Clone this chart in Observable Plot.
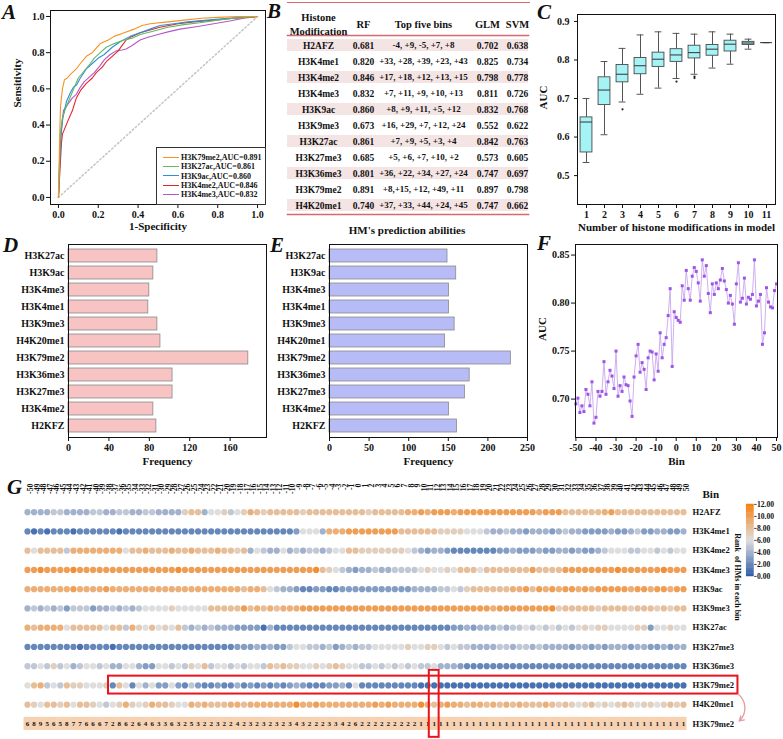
<!DOCTYPE html>
<html><head><meta charset="utf-8">
<script src="https://cdn.jsdelivr.net/npm/d3@7"></script>
<script src="https://cdn.jsdelivr.net/npm/@observablehq/plot@0.6"></script>
<style>
body{margin:0;background:#fff;}
#wrap{position:relative;width:783px;height:739px;overflow:hidden;font-family:"Liberation Serif","Times New Roman",serif;font-weight:bold;color:#111;background:#fff;}
.panel{position:absolute;}
.panel svg{overflow:visible;background:transparent;}
.lbl{position:absolute;font-style:italic;font-weight:bold;font-size:21px;line-height:1.1;}
</style></head><body><div id="wrap"></div>
<script>
// ---------------- DATA ----------------
// A: ROC curves [1-specificity, sensitivity]
const rocH3K79me2 = [[0,0],[0.003,0.15],[0.006,0.33],[0.01,0.5],[0.015,0.55],[0.02,0.6],[0.03,0.65],[0.045,0.66],[0.06,0.68],[0.09,0.71],[0.11,0.74],[0.14,0.78],[0.17,0.8],[0.21,0.85],[0.25,0.87],[0.28,0.89],[0.33,0.91],[0.38,0.93],[0.42,0.95],[0.46,0.96],[0.55,0.97],[0.63,0.98],[0.72,0.99],[0.8,0.995],[0.9,1],[1,1]];
const rocH3K27ac = [[0,0],[0.005,0.2],[0.01,0.36],[0.02,0.44],[0.035,0.49],[0.05,0.53],[0.065,0.57],[0.08,0.61],[0.1,0.66],[0.13,0.7],[0.16,0.74],[0.18,0.77],[0.21,0.8],[0.24,0.83],[0.28,0.85],[0.33,0.87],[0.37,0.88],[0.41,0.9],[0.48,0.92],[0.55,0.94],[0.63,0.955],[0.71,0.965],[0.8,0.98],[0.88,0.99],[1,1]];
const rocH3K9ac = [[0,0],[0.005,0.15],[0.012,0.33],[0.022,0.44],[0.04,0.53],[0.06,0.58],[0.076,0.61],[0.09,0.62],[0.11,0.66],[0.14,0.71],[0.17,0.74],[0.2,0.77],[0.23,0.79],[0.27,0.83],[0.31,0.86],[0.36,0.89],[0.41,0.91],[0.46,0.93],[0.51,0.95],[0.58,0.96],[0.65,0.97],[0.75,0.98],[0.85,0.99],[1,1]];
const rocH3K4me2 = [[0,0],[0.005,0.1],[0.015,0.3],[0.02,0.35],[0.035,0.39],[0.05,0.43],[0.07,0.48],[0.09,0.55],[0.11,0.59],[0.14,0.63],[0.17,0.66],[0.19,0.69],[0.22,0.72],[0.24,0.75],[0.27,0.78],[0.3,0.81],[0.32,0.84],[0.34,0.87],[0.37,0.89],[0.41,0.91],[0.46,0.925],[0.51,0.94],[0.6,0.96],[0.68,0.97],[0.78,0.98],[0.88,0.99],[1,1]];
const rocH3K4me3 = [[0,0],[0.005,0.15],[0.012,0.35],[0.025,0.48],[0.05,0.52],[0.07,0.55],[0.09,0.57],[0.11,0.61],[0.13,0.64],[0.16,0.67],[0.18,0.69],[0.21,0.73],[0.23,0.76],[0.26,0.79],[0.29,0.81],[0.32,0.815],[0.34,0.82],[0.37,0.84],[0.41,0.87],[0.45,0.885],[0.5,0.9],[0.55,0.915],[0.61,0.93],[0.7,0.945],[0.78,0.96],[0.86,0.975],[0.93,0.99],[1,1]];
const rocNames = ["H3K79me2","H3K27ac","H3K9ac","H3K4me2","H3K4me3"];
const rocAUC = [0.891,0.861,0.860,0.846,0.832];
const rocColors = ["#f7931e","#62b865","#2f8ed9","#e3262b","#b557c9"];

// B: table
const tableHM = ["H2AFZ","H3K4me1","H3K4me2","H3K4me3","H3K9ac","H3K9me3","H3K27ac","H3K27me3","H3K36me3","H3K79me2","H4K20me1"];
const tableRF = [0.681,0.820,0.846,0.832,0.860,0.673,0.861,0.685,0.801,0.891,0.740];
const tableTop = ["-4, +9, -5, +7, +8","+33, +28, +39, +23, +43","+17, +18, +12, +13, +15","+7, +11, +9, +10, +13","+8, +9, +11, +5, +12","+16, +29, +7, +12, +24","+7, +9, +5, +3, +4","+5, +6, +7, +10, +2","+36, +22, +34, +27, +24","+8,+15, +12, +49, +11","+37, +33, +44, +24, +45"];
const tableGLM = [0.702,0.825,0.798,0.811,0.832,0.552,0.842,0.573,0.747,0.897,0.747];
const tableSVM = [0.638,0.734,0.778,0.726,0.768,0.622,0.763,0.605,0.697,0.798,0.662];

// C: boxplot stats
const boxN = [1,2,3,4,5,6,7,8,9,10,11];
const boxLo  = [0.534,0.606,0.691,0.711,0.727,0.752,0.763,0.779,0.789,0.828,0.845];
const boxQ1  = [0.560,0.683,0.742,0.763,0.782,0.795,0.804,0.811,0.822,0.839,0.845];
const boxMed = [0.639,0.722,0.763,0.785,0.802,0.813,0.819,0.828,0.841,0.844,0.845];
const boxQ3  = [0.651,0.755,0.787,0.805,0.819,0.828,0.837,0.839,0.850,0.847,0.845];
const boxHi  = [0.700,0.796,0.830,0.865,0.873,0.869,0.867,0.873,0.867,0.854,0.845];
const outN = [3,6,7,7];
const outV = [0.672,0.744,0.757,0.753];

// D / E: frequencies
const hmNamesDE = ["H3K27ac","H3K9ac","H3K4me3","H3K4me1","H3K9me3","H4K20me1","H3K79me2","H3K36me3","H3K27me3","H3K4me2","H2KFZ"];
const freqD = [88,84,80,79,88,91,178,103,103,84,87];
const freqE = [149,160,151,151,158,146,229,177,171,151,161];

// F: AUC by bin (-50 .. 50)
const fAUC = [0.695,0.701,0.686,0.693,0.687,0.710,0.705,0.693,0.718,0.675,
0.681,0.708,0.703,0.708,0.739,0.705,0.718,0.730,0.724,0.711,
0.750,0.703,0.714,0.708,0.723,0.715,0.714,0.698,0.682,0.723,
0.745,0.757,0.728,0.738,0.731,0.710,0.743,0.750,0.749,0.720,
0.747,0.729,0.769,0.743,0.757,0.764,0.787,0.815,0.734,0.791,
0.785,
0.782,0.780,0.818,0.803,0.834,0.815,0.803,0.828,0.837,0.833,
0.821,0.802,0.845,0.828,0.839,0.810,0.790,0.820,0.809,0.821,
0.815,0.824,0.836,0.823,0.814,0.800,0.808,0.799,0.778,0.820,
0.842,0.801,0.805,0.826,0.799,0.806,0.804,0.809,0.845,0.797,
0.802,0.809,0.757,0.769,0.816,0.801,0.796,0.795,0.813,0.820];

// G: rank of each HM in each bin (-50..50); one hex digit per bin (a=10, b=11)
const gRows = ["H2AFZ","H3K4me1","H3K4me2","H3K4me3","H3K9ac","H3K9me3","H3K27ac","H3K27me3","H3K36me3","H3K79me2","H4K20me1"];
const rankH2AFZ    = "4444554444 5544554455 4444788466 7567987888 8878888888 8878888899 a9aaa9aaaa aaaaaaaa9a aa8888889a 8888888888 8";
const rankH3K4me1  = "2121222122 2222122222 2222222222 2222222222 236664999a aaaaaaa888 8887777666 5445443444 3454433334 3345334433 4";
const rankH3K4me2  = "8688885999 9999968898 8898898889 8878465446 4545545668 8777777765 4344322222 2233433343 3443433456 6655665656 6";
const rankH3K4me3  = "aabaaaabaa aaaaaaaaaa aaabaaaaaa aaaaaaaaaa aaaab87654 3445445555 6766768886 8888888a88 88aaaaaaaa baaaaaabaa a";
const rankH3K9ac   = "9999999a99 99a9999999 9999999999 9998998654 4322332233 3333333334 4445565788 888899a8a9 a9aa9a9aaa aa9aa9aa9a a";
const rankH3K9me3  = "4545453555 3445454566 6676666688 888a898989 99aaaaaaaa aaaaaaaaaa aaaaaaaaaa a9aaaaaaaa b788888788 8878887878 8";
const rankH3K27ac  = "9899996888 8868859768 6768545454 4433331422 2222222222 2222222222 2222233434 4454556565 6565676776 6667736676 6";
const rankH3K27me3 = "2222222212 2221222222 2222222222 2233343433 5665545345 4556666676 6776565544 4455455454 4443443434 4434433434 4";
const rankH3K36me3 = "5565756456 6564466433 6656576856 6565665878 7766767876 6556565656 5564443222 2222222222 2222222222 2222222222 2";
const rankH3K79me2 = "6895658776 6672862646 3363253223 2242323232 3432223342 6222222222 1111111111 1111111111 1111111111 1111111111 1";
const rankH4K20me1 = "8768878688 7656797679 8876698988 8998999999 9b99a99999 999a9a9999 b989a99899 8989898889 8787678676 7876776787 8";
const gRankStrings = [rankH2AFZ,rankH3K4me1,rankH3K4me2,rankH3K4me3,rankH3K9ac,rankH3K9me3,rankH3K27ac,rankH3K27me3,rankH3K36me3,rankH3K79me2,rankH4K20me1];
const highlight = {row: "H3K79me2", firstBin: -37, lastBin: 50, bin: 12};

// ---------------- DRAW ----------------
const wrap = document.getElementById("wrap");
function place(node, left, top) {
  const d = document.createElement("div");
  d.className = "panel"; d.style.left = left + "px"; d.style.top = top + "px";
  d.appendChild(node); wrap.appendChild(d); return d;
}
function html(str, css) {
  const d = document.createElement("div"); d.innerHTML = str; d.style.cssText = "position:absolute;" + css; wrap.appendChild(d); return d;
}
const baseStyle = {fontFamily: '"Liberation Serif", "Times New Roman", serif', fontSize: "10px", fontWeight: "bold", background: "transparent", color: "#111", overflow: "visible"};
const f1 = d3.format(".1f");

// A
const rocAll = [rocH3K79me2, rocH3K27ac, rocH3K9ac, rocH3K4me2, rocH3K4me3];
const rocData = rocNames.map((n, i) => rocAll[i].map(([fpr, tpr]) => ({name: n, fpr, tpr}))).reverse().flat();
place(Plot.plot({
  width: 270, height: 240, marginLeft: 50, marginRight: 5, marginTop: 10, marginBottom: 36,
  style: baseStyle,
  x: {domain: [-0.04, 1.04]}, y: {domain: [-0.039, 1.033]},
  color: {domain: rocNames, range: rocColors},
  marks: [
    Plot.line([[0, 0], [1, 1]], {stroke: "#c4c4c4", strokeDasharray: "1.5,2.5"}),
    Plot.line(rocData, {x: "fpr", y: "tpr", z: "name", stroke: "name", strokeWidth: 1.1}),
    Plot.frame({stroke: "#111"}),
    Plot.axisX({ticks: [0, 0.2, 0.4, 0.6, 0.8, 1], tickFormat: f1, tickSize: 4, tickPadding: 2, label: null}),
    Plot.axisY({ticks: [0, 0.2, 0.4, 0.6, 0.8, 1], tickFormat: f1, tickSize: 4, tickPadding: 2, label: null}),
    Plot.text(["1-Specificity"], {frameAnchor: "bottom", dy: 25, fontSize: 11}),
    Plot.text(["Sensitivity"], {frameAnchor: "left", dx: -33, rotate: -90, fontSize: 11})
  ]
}), 0, 0);
// A legend
const leg = html("", "left:156px;top:147px;width:108px;height:56px;border:1px solid #333;background:#fff;font-size:8px;");
rocNames.forEach((n, i) => {
  const y = 9.6 + i * 9.2;
  const ln = document.createElement("div");
  ln.style.cssText = `position:absolute;left:6px;top:${y - 0.6}px;width:16px;height:0;border-top:1.3px solid ${rocColors[i]};`;
  const tx = document.createElement("div");
  tx.style.cssText = `position:absolute;left:24px;top:${y - 5.5}px;line-height:11px;white-space:nowrap;`;
  tx.textContent = `${n},AUC=${rocAUC[i].toFixed(3)}`;
  leg.appendChild(ln); leg.appendChild(tx);
});

// B table (x = pixel column centres inside the table panel)
const tableColX = [56, 101, 161, 225, 255];
const tRows = tableHM.map((hm, i) => ({hm, i, rf: tableRF[i], top: tableTop[i], glm: tableGLM[i], svm: tableSVM[i]}));
const red = "#d9686b";
html("", `left:287px;top:2px;width:243px;height:0;border-top:1.6px solid ${red};`);
place(Plot.plot({
  width: 270, height: 220, marginTop: 35, marginBottom: 6, marginLeft: 25, marginRight: 4,
  style: {...baseStyle, fontSize: "9.5px"},
  x: {type: "identity", axis: null},
  y: {type: "band", domain: tableHM, padding: 0, axis: null},
  marks: [
    Plot.cell(tRows.filter(d => d.i % 2 === 0), {y: "hm", fill: "#f4e4e4", insetTop: 2, insetBottom: 2}),
    Plot.frame({anchor: "top", stroke: red, strokeWidth: 1.6}),
    Plot.frame({anchor: "bottom", stroke: red, strokeWidth: 1.6}),
    Plot.text(["Histone"], {x: () => tableColX[0], frameAnchor: "top", dy: -22, fontSize: 10.5}),
    Plot.text(["Modification"], {x: () => tableColX[0], frameAnchor: "top", dy: -8, fontSize: 10.5}),
    Plot.text(["RF"], {x: () => tableColX[1], frameAnchor: "top", dy: -15, fontSize: 10.5}),
    Plot.text(["Top five bins"], {x: () => tableColX[2], frameAnchor: "top", dy: -15, fontSize: 10.5}),
    Plot.text(["GLM"], {x: () => tableColX[3], frameAnchor: "top", dy: -15, fontSize: 10.5}),
    Plot.text(["SVM"], {x: () => tableColX[4], frameAnchor: "top", dy: -15, fontSize: 10.5}),
    Plot.text(tRows, {x: () => tableColX[0], y: "hm", text: "hm"}),
    Plot.text(tRows, {x: () => tableColX[1], y: "hm", text: d => d.rf.toFixed(3)}),
    Plot.text(tRows, {x: () => tableColX[2], y: "hm", text: "top", fontSize: 9}),
    Plot.text(tRows, {x: () => tableColX[3], y: "hm", text: d => d.glm.toFixed(3)}),
    Plot.text(tRows, {x: () => tableColX[4], y: "hm", text: d => d.svm.toFixed(3)})
  ]
}), 262, 0);

// C boxplot
const boxes = boxN.map((n, i) => ({n, lo: boxLo[i], q1: boxQ1[i], med: boxMed[i], q3: boxQ3[i], hi: boxHi[i]}));
const outs = outN.map((n, i) => ({n, v: outV[i]}));
place(Plot.plot({
  width: 263, height: 240, marginLeft: 57, marginRight: 8, marginTop: 14, marginBottom: 36,
  style: baseStyle,
  x: {domain: [0.5, 11.5]}, y: {domain: [0.425, 0.918]},
  marks: [
    Plot.ruleX(boxes, {x: "n", y1: "lo", y2: "q1", stroke: "#555"}),
    Plot.ruleX(boxes, {x: "n", y1: "q3", y2: "hi", stroke: "#555"}),
    Plot.ruleY(boxes, {y: "lo", x1: d => d.n - 0.19, x2: d => d.n + 0.19, stroke: "#555"}),
    Plot.ruleY(boxes, {y: "hi", x1: d => d.n - 0.19, x2: d => d.n + 0.19, stroke: "#555"}),
    Plot.rect(boxes, {x1: d => d.n - 0.33, x2: d => d.n + 0.33, y1: "q1", y2: "q3", fill: "#a6f3f5", stroke: "#4a4a4a", strokeWidth: 0.9}),
    Plot.ruleY(boxes, {y: "med", x1: d => d.n - 0.33, x2: d => d.n + 0.33, stroke: "#333", strokeWidth: 1}),
    Plot.dot(outs, {x: "n", y: "v", r: 1.1, fill: "#222"}),
    Plot.frame({stroke: "#111"}),
    Plot.axisX({ticks: boxN, tickFormat: d => String(d), tickSize: 4, tickPadding: 2, label: null}),
    Plot.axisY({ticks: [0.5, 0.6, 0.7, 0.8, 0.9], tickFormat: f1, tickSize: 3, tickPadding: 5, label: null}),
    Plot.text(["Number of histone modifications in model"], {frameAnchor: "bottom", dy: 26, fontSize: 11}),
    Plot.text(["AUC"], {frameAnchor: "left", dx: -34, rotate: -90, fontSize: 11})
  ]
}), 520, 0);

// D / E
function barPanel(values, maxX, ticks, fill, mLeft, width) {
  const data = hmNamesDE.map((hm, i) => ({hm, f: values[i]}));
  return Plot.plot({
    width, height: 240, marginLeft: mLeft, marginRight: width - mLeft - 198, marginTop: 7, marginBottom: 40,
    style: baseStyle,
    x: {domain: [0, maxX]}, y: {domain: hmNamesDE, padding: 0.24},
    marks: [
      Plot.barX(data, {x: "f", y: "hm", fill, stroke: "#8a8a8a", strokeWidth: 0.8}),
      Plot.frame({stroke: "#111"}),
      Plot.axisX({ticks, tickSize: 4, tickPadding: 2, label: null}),
      Plot.axisY({tickSize: 0, tickPadding: 4, label: null}),
      Plot.text(["Frequency"], {frameAnchor: "bottom", dy: 27, fontSize: 11})
    ]
  });
}
place(barPanel(freqD, 196, [0, 40, 80, 120, 160], "#f7c3c3", 68, 270), 0, 237);
place(barPanel(freqE, 250, [0, 50, 100, 150, 200, 250], "#b7bcf7", 64, 270), 265, 237);

// F
const fData = fAUC.map((v, i) => ({bin: i - 50, auc: v}));
place(Plot.plot({
  width: 248, height: 240, marginLeft: 40, marginRight: 6, marginTop: 7, marginBottom: 40,
  style: baseStyle,
  x: {domain: [-50.2, 50.5]}, y: {domain: [0.66, 0.861]},
  marks: [
    Plot.line(fData, {x: "bin", y: "auc", stroke: "#c9a6ee", strokeWidth: 0.9}),
    Plot.dot(fData, {x: "bin", y: "auc", symbol: "square", r: 1.7, fill: "#9d55e6"}),
    Plot.frame({stroke: "#111"}),
    Plot.axisX({ticks: [-50, -40, -30, -20, -10, 0, 10, 20, 30, 40, 50], tickFormat: d => String(d), tickSize: 4, tickPadding: 2, label: null}),
    Plot.axisY({ticks: [0.70, 0.75, 0.80, 0.85], tickFormat: d3.format(".2f"), tickSize: 4, tickPadding: 2, label: null}),
    Plot.text(["AUC"], {frameAnchor: "left", dx: -33, rotate: -90, fontSize: 11}),
    Plot.text(["Bin"], {frameAnchor: "bottom", dy: 27, fontSize: 11})
  ]
}), 535, 237);

// G
const gBins = d3.range(-50, 51);
const gCells = [];
gRows.forEach((hm, r) => {
  const codes = gRankStrings[r].replace(/\s/g, "");
  gBins.forEach((b, i) => { if (i < codes.length) gCells.push({hm, row: r, bin: b, rank: parseInt(codes[i], 16)}); });
});
const rankRow = gCells.filter(d => d.hm === highlight.row);
const hiRow = gRows.indexOf(highlight.row);
const rankRowIdx = gRows.length;
const gColor = {type: "linear", domain: [0, 6, 12], range: ["#2a5ba8", "#dedede", "#f77f10"], interpolate: "rgb"};
place(Plot.plot({
  width: 783, height: 264, marginLeft: 27, marginRight: 100, marginTop: 27, marginBottom: 6,
  style: baseStyle,
  x: {domain: [-50, 50], axis: null},
  y: {domain: [-0.5, 11.5], reverse: true, axis: null},
  color: gColor,
  marks: [
    Plot.dot(gCells, {x: "bin", y: "row", r: 3.1, fill: "rank"}),
    Plot.rect(rankRow, {x1: d => d.bin - 0.5, x2: d => d.bin + 0.5, y1: () => rankRowIdx - 0.33, y2: () => rankRowIdx + 0.33, fill: "#f6d2b3", inset: -0.2}),
    Plot.text(rankRow, {x: "bin", y: () => rankRowIdx, text: d => String(d.rank), fontSize: 7}),
    Plot.text(gBins, {x: d => d, text: d => String(d), frameAnchor: "top", dy: -19, rotate: -90, textAnchor: "end", fontSize: 7.8}),
    Plot.text(gRows, {x: () => 50, y: (d, i) => i, dx: 9, textAnchor: "start", fontSize: 8.6}),
    Plot.text([highlight.row], {x: () => 50, y: () => rankRowIdx, dx: 9, textAnchor: "start", fontSize: 8.6}),
    Plot.text(["Bin"], {x: () => 50, frameAnchor: "top", dx: 19, dy: -12, textAnchor: "start", fontSize: 11}),
    Plot.rect([highlight], {x1: d => d.firstBin - 0.65, x2: d => d.lastBin + 8.3, y1: () => hiRow - 0.48, y2: () => hiRow + 0.45, fill: "none", stroke: "#e8141c", strokeWidth: 2}),
    Plot.rect([highlight], {x1: d => d.bin - 0.75, x2: d => d.bin + 0.75, y1: () => hiRow - 0.78, y2: () => rankRowIdx + 0.7, fill: "none", stroke: "#e8141c", strokeWidth: 2}),
    Plot.arrow([highlight], {x1: d => d.lastBin + 8.3, y1: () => hiRow + 0.45, x2: d => d.lastBin + 8.5, y2: () => rankRowIdx - 0.15, bend: 50, stroke: "#e8979d", strokeWidth: 1.3, headLength: 6})
  ]
}), 0, 475);
// G colour legend
const legendStops = d3.range(0, 12, 0.2);
place(Plot.plot({
  width: 70, height: 100, marginLeft: 24, marginRight: 37, marginTop: 5, marginBottom: 5,
  style: baseStyle,
  x: {domain: [0, 1], axis: null}, y: {domain: [0, 12]},
  color: gColor,
  marks: [
    Plot.rect(legendStops, {x1: () => 0, x2: () => 1, y1: d => d, y2: d => d + 0.2, fill: d => d + 0.1, inset: -0.3}),
    Plot.axisY({anchor: "right", ticks: [0, 2, 4, 6, 8, 10, 12], tickFormat: d => d.toFixed(2), tickSize: 3, tickPadding: 1, fontSize: 9.5, label: null}),
    Plot.text(["Rank\u00a0 of HMs in each bin"], {frameAnchor: "left", dx: -11, dy: -9, rotate: 90, fontSize: 10})
  ]
}), 727, 500);

// captions and panel letters
html("HM's prediction abilities", "left:307px;width:200px;text-align:center;top:224px;font-size:11px;white-space:nowrap;");
[["A", 2, 1], ["B", 267, 0], ["C", 537, 1], ["D", 3, 234], ["E", 270, 234], ["F", 537, 232], ["G", 7, 476]]
  .forEach(([t, x, y]) => { const d = html(t, `left:${x}px;top:${y}px;`); d.className = "lbl"; });
</script></body></html>
